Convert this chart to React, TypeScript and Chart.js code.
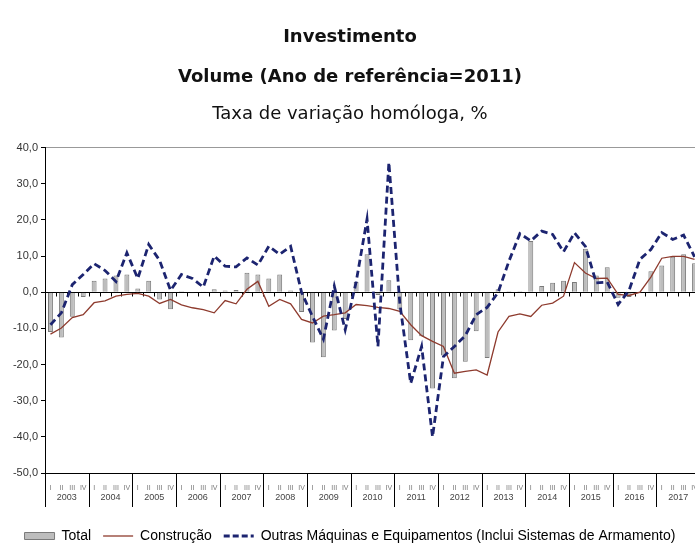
import React, { useEffect, useRef } from "react";
import { Chart, registerables } from "chart.js";

Chart.register(...registerables);

const years = ["2003", "2004", "2005", "2006", "2007", "2008", "2009", "2010", "2011", "2012", "2013", "2014", "2015", "2016", "2017"];
const quarters = ["I", "II", "III", "IV"];
const categories: string[] = [];
years.forEach((y) => quarters.forEach((q) => categories.push(`${y} ${q}`)));

const titleLines = ["Investimento", "Volume (Ano de referência=2011)"];
const subtitleText = "Taxa de variação homóloga, %";
const seriesNames = ["Total", "Construção", "Outras Máquinas e Equipamentos (Inclui Sistemas de Armamento)"];

const total = [
  -11.0, -12.5, -6.8, -1.3, 3.2, 3.8, 4.6, 4.9, 1.0, 3.2, -2.0, -4.7,
  0.3, -0.3, 0.2, 0.8, 0.5, 0.6, 5.4, 4.9, 3.8, 4.9, 0.5, -5.5,
  -13.9, -18.0, -10.6, -7.4, 2.8, 10.5, -0.8, 3.3, -4.8, -13.3, -12.2, -26.6,
  -17.5, -23.8, -19.2, -10.8, -18.2, 0.8, 0.3, 0.3, 14.2, 1.7, 2.6, 3.2,
  2.8, 12.0, 4.6, 6.9, -1.5, -1.3, -0.3, 5.8, 7.4, 9.8, 10.5, 8.0,
];
const construcao = [
  -11.6, -9.9, -7.0, -6.2, -2.9, -2.4, -1.1, -0.6, -0.3, -1.1, -3.1, -2.0,
  -3.5, -4.3, -4.8, -5.7, -2.3, -3.2, 0.8, 3.0, -3.9, -2.0, -3.2, -7.5,
  -8.5, -6.6, -6.2, -5.7, -3.4, -3.7, -4.2, -4.5, -5.3, -9.0, -12.0, -13.6,
  -15.0, -22.4, -21.9, -21.5, -22.9, -11.0, -6.7, -6.0, -6.7, -3.6, -3.0, -1.1,
  8.2, 5.3, 3.8, 3.9, -0.6, -0.9, 0.0, 4.2, 9.4, 9.9, 9.9, 9.1,
];
const outrasMaquinas = [
  -9.0, -5.7, 2.1, 4.9, 7.9, 6.0, 3.0, 10.9, 3.8, 13.2, 8.8, 0.5,
  4.9, 3.8, 1.4, 10.0, 7.2, 7.0, 9.5, 7.5, 12.7, 10.5, 12.7, 0.0,
  -6.7, -13.0, 1.7, -10.4, 2.8, 20.2, -15.0, 35.9, -3.0, -25.2, -15.0, -40.0,
  -17.8, -15.0, -12.0, -6.2, -4.2, -0.1, 8.6, 16.2, 14.2, 16.9, 16.0, 11.2,
  16.4, 12.7, 2.6, 2.8, -3.4, 0.5, 9.1, 11.8, 16.5, 14.6, 15.8, 9.8,
];

const Y_MIN = -50;
const Y_MAX = 40;
const Y_STEP = 10;

const COL_BAR = "#bdbdbd";
const COL_BAR_BORDER = "#7a7a7a";
const COL_CONSTR = "#8e3b2e";
const COL_OUTRAS = "#1c2470";
const FONT = '"Liberation Sans", Arial, sans-serif';

const axisDecor = {
  id: "axisDecor",
  beforeDatasetsDraw(chart: any) {
    const { ctx, scales } = chart;
    const x = scales.x;
    const y = scales.y;
    const y0 = Math.round(y.getPixelForValue(0)) + 0.5;
    ctx.save();
    ctx.strokeStyle = "#000";
    ctx.lineWidth = 1;
    ctx.beginPath();
    for (let k = 0; k <= categories.length; k++) {
      const px = Math.round(x.getPixelForValue(k - 0.5)) + 0.5;
      ctx.moveTo(px, y0);
      ctx.lineTo(px, y0 + 4);
    }
    ctx.stroke();
    ctx.restore();
  },
  afterDraw(chart: any) {
    const { ctx, chartArea, scales } = chart;
    const x = scales.x;
    const b = chartArea.bottom;
    ctx.save();
    ctx.strokeStyle = "#000";
    ctx.lineWidth = 1;
    ctx.beginPath();
    for (let k = 0; k <= years.length; k++) {
      const px = Math.round(x.getPixelForValue(k * quarters.length - 0.5)) + 0.5;
      ctx.moveTo(px, b);
      ctx.lineTo(px, b + 34);
    }
    ctx.stroke();
    ctx.fillStyle = "#444";
    ctx.font = `9px ${FONT}`;
    ctx.textAlign = "center";
    ctx.textBaseline = "middle";
    years.forEach((yr, k) => {
      const a = x.getPixelForValue(k * quarters.length - 0.5);
      const c = x.getPixelForValue(k * quarters.length + quarters.length - 0.5);
      ctx.fillText(yr, (a + c) / 2, b + 25);
    });
    ctx.restore();
  },
};

export default function App() {
  const ref = useRef<HTMLCanvasElement | null>(null);

  useEffect(() => {
    if (!ref.current) return;
    const chart = new Chart(ref.current, {
      type: "bar",
      data: {
        labels: categories,
        datasets: [
          {
            type: "bar",
            label: seriesNames[0],
            data: total,
            backgroundColor: COL_BAR,
            borderColor: COL_BAR_BORDER,
            borderWidth: 1,
            barPercentage: 0.45,
            categoryPercentage: 1,
            order: 3,
          },
          {
            type: "line",
            label: seriesNames[1],
            data: construcao,
            borderColor: COL_CONSTR,
            backgroundColor: COL_CONSTR,
            borderWidth: 1.3,
            pointRadius: 0,
            tension: 0,
            order: 2,
          },
          {
            type: "line",
            label: seriesNames[2],
            data: outrasMaquinas,
            borderColor: COL_OUTRAS,
            backgroundColor: COL_OUTRAS,
            borderWidth: 2.8,
            borderDash: [7, 4],
            pointRadius: 0,
            tension: 0,
            order: 1,
          },
        ] as any,
      },
      options: {
        responsive: false,
        animation: false,
        layout: { padding: { left: 0, right: 12, top: 0, bottom: 0 } },
        plugins: {
          title: {
            display: true,
            text: titleLines,
            color: "#111",
            font: { family: '"DejaVu Sans", Verdana, sans-serif', size: 18, weight: "bold", lineHeight: 2.222 },
            padding: { top: 17, bottom: 7 },
          },
          subtitle: {
            display: true,
            text: subtitleText,
            color: "#111",
            font: { family: '"DejaVu Sans", Verdana, sans-serif', size: 18, weight: "normal", lineHeight: 1.2 },
            padding: { top: 0, bottom: 22 },
          },
          legend: {
            position: "bottom",
            labels: {
              usePointStyle: true,
              pointStyleWidth: 30,
              boxHeight: 7,
              padding: 12,
              color: "#222",
              font: { family: FONT, size: 14 },
              generateLabels: (c: any) =>
                c.data.datasets.map((ds: any, i: number) => ({
                  text: ds.label,
                  fillStyle: i === 0 ? COL_BAR : ds.borderColor,
                  strokeStyle: i === 0 ? COL_BAR_BORDER : ds.borderColor,
                  lineWidth: i === 0 ? 1 : ds.borderWidth,
                  lineDash: i === 2 ? [6, 3] : [],
                  pointStyle: i === 0 ? "rect" : "line",
                  hidden: false,
                  datasetIndex: i,
                })),
            },
          },
          tooltip: { enabled: false },
        },
        scales: {
          x: {
            offset: true,
            grid: { display: false },
            border: { display: true, color: "#000", width: 1 },
            ticks: {
              autoSkip: false,
              maxRotation: 0,
              minRotation: 0,
              padding: 3,
              color: "#777",
              font: { family: FONT, size: 7 },
              callback: (_v: any, i: number) => quarters[i % quarters.length],
            },
            afterFit: (s: any) => {
              s.height = 44;
            },
          },
          y: {
            min: Y_MIN,
            max: Y_MAX,
            ticks: {
              stepSize: Y_STEP,
              padding: 3,
              color: "#333",
              font: { family: FONT, size: 11 },
              callback: (v: any) => Number(v).toFixed(1).replace(".", ","),
            },
            grid: {
              color: (c: any) =>
                c.tick && c.tick.value === 0 ? "#000" : c.tick && c.tick.value === Y_MAX ? "#999" : "rgba(0,0,0,0)",
              tickColor: "#000",
              tickLength: 4,
              lineWidth: 1,
            },
            border: { display: true, color: "#000", width: 1 },
            afterFit: (s: any) => {
              s.width = 45;
            },
          },
        },
      } as any,
      plugins: [axisDecor],
    });
    return () => chart.destroy();
  }, []);

  return (
    <div style={{ position: "fixed", left: 0, top: 0, width: 695, height: 549, overflow: "hidden", background: "#fff" }}>
      <canvas ref={ref} width={712} height={553} style={{ display: "block", width: 712, height: 553 }} />
    </div>
  );
}
